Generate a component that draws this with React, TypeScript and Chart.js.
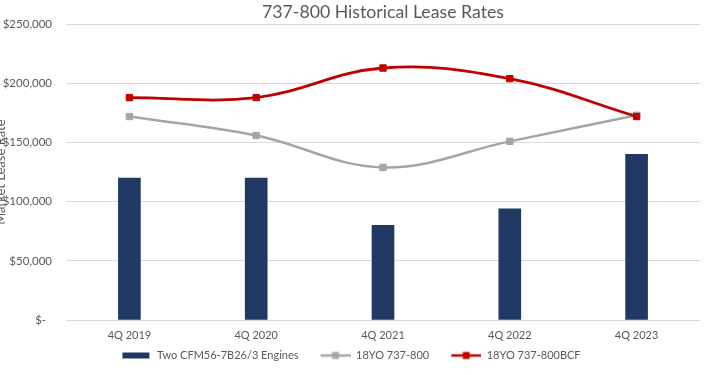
import React, { useEffect, useRef } from "react";
import { Chart, registerables } from "chart.js";

Chart.register(...registerables);

const categories = ["4Q 2019", "4Q 2020", "4Q 2021", "4Q 2022", "4Q 2023"];
const engineRates = [120000, 120000, 80000, 94000, 140000];
const yo737800 = [172000, 156000, 129000, 151000, 173000];
const yo737800BCF = [188000, 188000, 213000, 204000, 172000];
const seriesNames = ["Two CFM56-7B26/3 Engines", "18YO 737-800", "18YO 737-800BCF"];
const yTickValues = [0, 50000, 100000, 150000, 200000, 250000];

const NAVY = "#203864";
const GRAY = "#A5A5A5";
const RED = "#C00000";
const TEXT = "#595959";
const GRID = "#D9D9D9";
const FONT = "Lato";
const OFF = 12;
const LEG_W = 44;

function legendImg(kind: "bar" | "line", color: string) {
  const c = document.createElement("canvas");
  c.width = LEG_W;
  c.height = 10;
  const ctx = c.getContext("2d")!;
  const x0 = LEG_W - 30;
  if (kind === "bar") {
    ctx.fillStyle = color;
    ctx.fillRect(x0 + 1, 2, 27, 6);
  } else {
    ctx.strokeStyle = color;
    ctx.lineWidth = 2.5;
    ctx.beginPath();
    ctx.moveTo(x0, 5);
    ctx.lineTo(x0 + 30, 5);
    ctx.stroke();
    ctx.fillStyle = color;
    ctx.fillRect(x0 + 11.5, 1.5, 7, 7);
  }
  return c;
}

export default function App() {
  const ref = useRef<HTMLCanvasElement>(null);
  useEffect(() => {
    const imgs = [legendImg("bar", NAVY), legendImg("line", GRAY), legendImg("line", RED)];
    const chart = new Chart(ref.current!, {
      type: "bar",
      data: {
        labels: categories,
        datasets: [
          {
            type: "bar",
            label: seriesNames[0],
            data: engineRates,
            backgroundColor: NAVY,
            barThickness: 22,
            order: 3,
          },
          {
            type: "line",
            label: seriesNames[1],
            data: yo737800,
            borderColor: GRAY,
            backgroundColor: GRAY,
            borderWidth: 2.5,
            tension: 0.38,
            pointStyle: "rect",
            pointRadius: 4.5,
            pointBorderWidth: 1,
            order: 2,
          },
          {
            type: "line",
            label: seriesNames[2],
            data: yo737800BCF,
            borderColor: RED,
            backgroundColor: RED,
            borderWidth: 2.8,
            tension: 0.38,
            pointStyle: "rect",
            pointRadius: 4.5,
            pointBorderWidth: 1,
            order: 1,
          },
        ] as any,
      },
      options: {
        animation: false,
        responsive: true,
        maintainAspectRatio: false,
        layout: { padding: { left: 0, right: 10, top: 0, bottom: 4 } },
        plugins: {
          title: {
            display: true,
            text: "737-800 Historical Lease Rates",
            color: TEXT,
            font: { family: FONT, size: 17.7, weight: "normal" },
            padding: { top: 2, bottom: 1 },
            fullSize: false,
          },
          legend: {
            position: "bottom",
            labels: {
              usePointStyle: true,
              pointStyleWidth: LEG_W,
              padding: 8,
              color: TEXT,
              font: { family: FONT, size: 11 },
              generateLabels: () =>
                seriesNames.map((t, i) => ({
                  text: t,
                  pointStyle: imgs[i] as any,
                  fillStyle: "rgba(0,0,0,0)",
                  strokeStyle: "rgba(0,0,0,0)",
                  lineWidth: 0,
                  hidden: false,
                  datasetIndex: i,
                  fontColor: TEXT,
                })),
            },
          },
          tooltip: { enabled: false },
        },
        scales: {
          x: {
            grid: { display: false, drawTicks: false },
            border: { display: false },
            ticks: { color: TEXT, font: { family: FONT, size: 11 }, padding: 9 },
            afterFit: (s: any) => {
              s.height = 22;
            },
          },
          y: {
            min: 0,
            max: 250000,
            afterBuildTicks: (s: any) => {
              s.ticks = yTickValues.map((v) => ({ value: v }));
            },
            grid: { color: GRID, lineWidth: 1, drawTicks: false },
            border: { display: false },
            ticks: {
              color: TEXT,
              font: { family: FONT, size: 11.5 },
              padding: 14,
              callback: (v: any) => (Number(v) === 0 ? "$-  " : "$" + Number(v).toLocaleString("en-US")),
            },
            title: {
              display: true,
              text: "Market Lease Rate",
              color: TEXT,
              font: { family: FONT, size: 13 },
              padding: { top: 5, bottom: 0 },
            },
            afterFit: (s: any) => {
              s.width = 66 + OFF;
            },
          },
        },
      } as any,
    });
    return () => chart.destroy();
  }, []);
  return (
    <div style={{ position: "absolute", left: 0, top: 0, width: 710, height: 375, overflow: "hidden", background: "#fff" }}>
      <div style={{ position: "absolute", left: -OFF, top: 0, width: 710 + OFF, height: 375 }}>
        <canvas ref={ref} />
      </div>
    </div>
  );
}
